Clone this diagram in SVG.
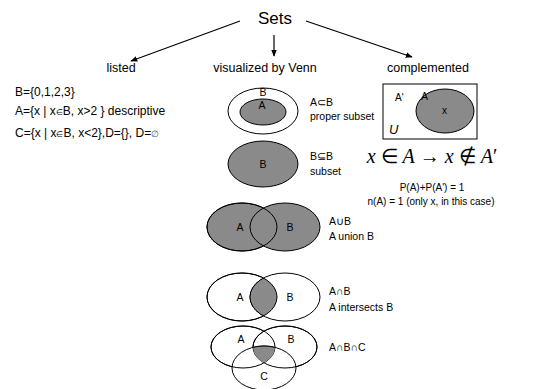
<svg xmlns="http://www.w3.org/2000/svg" width="554" height="389" viewBox="0 0 554 389">
  <style>
    text { font-family: "Liberation Sans", Arial, sans-serif; fill: #000; }
    .title { font-size: 17px; }
    .head { font-size: 12.5px; }
    .body { font-size: 12px; }
    .lbl { font-size: 10.5px; }
    .small { font-size: 10px; }
    .math { font-family: "Liberation Serif", "Times New Roman", serif; font-size: 20px; }
    .it { font-style: italic; }
    .fill { fill: #8a8a8a; stroke: #000; stroke-width: 1; }
    .open { fill: #fff; stroke: #000; stroke-width: 1; }
    .line { fill: none; stroke: #000; stroke-width: 1; }
    .edge { fill: none; stroke: #000; stroke-width: 1.2; marker-end: url(#arrow); }
  </style>
  <defs>
    <marker id="arrow" viewBox="0 0 10 10" refX="9" refY="5" markerWidth="7" markerHeight="7" orient="auto-start-reverse" markerUnits="userSpaceOnUse">
      <path d="M0,1 L10,5 L0,9 z" fill="#000"/>
    </marker>
    <clipPath id="clipIA"><ellipse cx="242" cy="297" rx="35" ry="24"/></clipPath>
    <clipPath id="clipTA"><ellipse cx="243" cy="347" rx="32" ry="21"/></clipPath>
    <clipPath id="clipTB" clip-path="url(#clipTA)"><ellipse cx="285" cy="347" rx="32" ry="21"/></clipPath>
  </defs>

  <!-- root -->
  <g id="sets">
    <text class="title" x="275" y="24" text-anchor="middle">Sets</text>
  </g>

  <!-- connectors from the root -->
  <g id="connectors">
    <path class="edge" d="M240,21 L131,61"/>
    <path class="edge" d="M274,35 L274,56"/>
    <path class="edge" d="M306,21 L412,57"/>
  </g>

  <!-- listed -->
  <g id="listed">
    <text class="head" x="121" y="72" text-anchor="middle">listed</text>
    <text class="body" x="15" y="96">B={0,1,2,3}</text>
    <text class="body" x="15" y="115">A={x | x<tspan font-size="8">∈</tspan>B, x&gt;2 } descriptive</text>
    <text class="body" x="15" y="137">C={x | x<tspan font-size="8">∈</tspan>B, x&lt;2},D={}, D=<tspan font-size="9" fill="#555">∅</tspan></text>
  </g>

  <!-- Venn diagrams -->
  <g id="venn">
    <text class="head" x="265" y="72" text-anchor="middle">visualized by Venn</text>
  </g>

  <g id="proper-subset">
    <ellipse class="open" cx="263" cy="111" rx="35" ry="23"/>
    <ellipse class="fill" cx="263" cy="112" rx="23" ry="13"/>
    <text class="lbl" x="263" y="96" text-anchor="middle">B</text>
    <text class="lbl" x="262" y="109" text-anchor="middle">A</text>
    <text class="lbl" x="310" y="106">A⊂B</text>
    <text class="lbl" x="310" y="120">proper subset</text>
  </g>

  <g id="subset">
    <ellipse class="fill" cx="263" cy="164" rx="35" ry="23"/>
    <text class="lbl" x="263" y="168" text-anchor="middle">B</text>
    <text class="lbl" x="310" y="160">B⊆B</text>
    <text class="lbl" x="310" y="175">subset</text>
  </g>

  <g id="union">
    <ellipse class="fill" cx="242" cy="227" rx="35" ry="24"/>
    <ellipse class="fill" cx="285" cy="227" rx="35" ry="24"/>
    <ellipse class="line" cx="242" cy="227" rx="35" ry="24"/>
    <text class="lbl" x="240" y="231" text-anchor="middle">A</text>
    <text class="lbl" x="290" y="231" text-anchor="middle">B</text>
    <text class="lbl" x="329" y="225">A∪B</text>
    <text class="lbl" x="329" y="240">A union B</text>
  </g>

  <g id="intersection">
    <ellipse class="open" cx="242" cy="297" rx="35" ry="24"/>
    <ellipse class="open" cx="285" cy="297" rx="35" ry="24"/>
    <ellipse class="fill" cx="285" cy="297" rx="35" ry="24" clip-path="url(#clipIA)"/>
    <ellipse class="line" cx="242" cy="297" rx="35" ry="24"/>
    <text class="lbl" x="240" y="301" text-anchor="middle">A</text>
    <text class="lbl" x="290" y="301" text-anchor="middle">B</text>
    <text class="lbl" x="329" y="295">A∩B</text>
    <text class="lbl" x="329" y="311">A intersects B</text>
  </g>

  <g id="triple">
    <ellipse class="open" cx="243" cy="347" rx="32" ry="21"/>
    <ellipse class="open" cx="285" cy="347" rx="32" ry="21"/>
    <ellipse class="open" cx="264" cy="368" rx="32" ry="22"/>
    <ellipse class="line" cx="243" cy="347" rx="32" ry="21"/>
    <ellipse class="line" cx="285" cy="347" rx="32" ry="21"/>
    <ellipse class="fill" cx="264" cy="368" rx="32" ry="22" clip-path="url(#clipTB)"/>
    <text class="lbl" x="241" y="343" text-anchor="middle">A</text>
    <text class="lbl" x="291" y="343" text-anchor="middle">B</text>
    <text class="lbl" x="264" y="380" text-anchor="middle">C</text>
    <text class="lbl" x="329" y="351">A∩B∩C</text>
  </g>

  <!-- complement -->
  <g id="complemented">
    <text class="head" x="428" y="72" text-anchor="middle">complemented</text>
    <rect x="383" y="84" width="94" height="55" fill="#fff" stroke="#000" stroke-width="1"/>
    <ellipse class="fill" cx="445" cy="111" rx="29" ry="22"/>
    <text class="small" x="395" y="101">A'</text>
    <text class="lbl" x="421" y="100">A</text>
    <text class="small" x="442" y="114">x</text>
    <text x="389" y="134" font-size="13" font-style="italic">U</text>
    <text class="math" x="432" y="163" text-anchor="middle"><tspan class="it">x</tspan> ∈ <tspan class="it">A</tspan> → <tspan class="it">x</tspan> ∉ <tspan class="it">A</tspan>′</text>
    <text class="small" x="432" y="191" text-anchor="middle">P(A)+P(A') = 1</text>
    <text class="small" x="431" y="205" text-anchor="middle">n(A) = 1 (only x, in this case)</text>
  </g>
</svg>
